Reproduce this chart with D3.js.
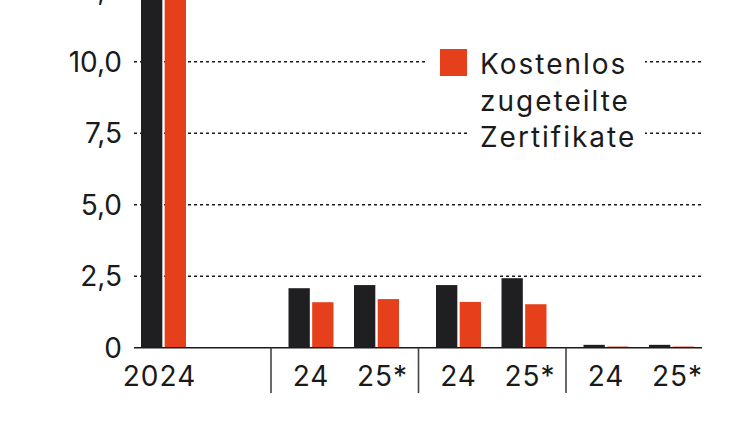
<!DOCTYPE html>
<html><head><meta charset="utf-8">
<script src="https://cdn.jsdelivr.net/npm/d3@7"></script>
<style>html,body{margin:0;padding:0;background:#fff;}svg{display:block;font-family:Inter,"Noto Sans",sans-serif;}</style>
</head><body><svg id="c" width="750" height="421"></svg>
<script>
// ---- data ----
const groups = ["2024", "A", "B", "C"];
const years = ["24", "25*"];
const series = ["Emissionen", "Kostenlos zugeteilte Zertifikate"];
const data = [
  {group: "2024", year: "24", label: "2024", values: [15.0, 14.0]},
  {group: "A", year: "24", label: "24", values: [2.08, 1.59]},
  {group: "A", year: "25*", label: "25*", values: [2.19, 1.70]},
  {group: "B", year: "24", label: "24", values: [2.19, 1.60]},
  {group: "B", year: "25*", label: "25*", values: [2.43, 1.52]},
  {group: "C", year: "24", label: "24", values: [0.10, 0.04]},
  {group: "C", year: "25*", label: "25*", values: [0.10, 0.04]}
];
const yTicks = [0, 2.5, 5, 7.5, 10, 12.5];
const yTickLabels = ["0", "2,5", "5,0", "7,5", "10,0", "12,5"];
const legendLines = ["Kostenlos", "zugeteilte", "Zertifikate"];

// ---- layout ----
const colors = ["#1f1f22", "#e5401b"];
const svg = d3.select("#c");
const y = d3.scaleLinear().domain([0, 10]).range([347.7, 61.7]);
const outer = d3.scaleBand().domain(groups).range([123.5, 713.5]);
const inner = d3.scalePoint().domain(years).range([40, 105.5]);
const ser = d3.scaleBand().domain(series).range([-22.5, 22.5]).paddingInner(0.1);
const gridX0 = 134, gridX1 = 702;
const cx = d => outer(d.group) + inner(d.year);

// gridlines
svg.append("g").selectAll("line").data(yTicks.filter(v => v > 0)).join("line")
  .attr("x1", gridX0).attr("x2", gridX1)
  .attr("y1", d => y(d)).attr("y2", d => y(d))
  .attr("stroke", "#1a1a1a").attr("stroke-width", 1.6).attr("stroke-dasharray", "3,3");

// tick labels
svg.append("g").selectAll("text").data(yTicks).join("text")
  .attr("x", 122).attr("y", d => y(d)).attr("dy", "0.36em")
  .attr("text-anchor", "end").attr("font-size", 28).attr("fill", "#1a1a1a")
  .text((d, i) => yTickLabels[i]);

// legend backgrounds
svg.append("rect").attr("x", 425).attr("y", 38).attr("width", 220).attr("height", 52).attr("fill", "#fff");
svg.append("rect").attr("x", 467).attr("y", 38).attr("width", 178).attr("height", 122).attr("fill", "#fff");
svg.append("rect").attr("x", 440).attr("y", 49).attr("width", 27).attr("height", 27).attr("fill", colors[1]);
svg.append("g").selectAll("text").data(legendLines).join("text")
  .attr("x", 480).attr("y", (d, i) => 74 + i * 36.6)
  .attr("font-size", 28).attr("letter-spacing", 2).attr("fill", "#1a1a1a").text(d => d);

// bars
const bars = [];
data.forEach(d => d.values.forEach((v, i) => bars.push({d, v, s: series[i], i})));
svg.append("g").selectAll("rect").data(bars).join("rect")
  .attr("x", b => cx(b.d) + ser(b.s)).attr("width", ser.bandwidth())
  .attr("y", b => y(b.v)).attr("height", b => y(0) - y(b.v))
  .attr("fill", b => colors[b.i]);

// baseline
svg.append("line").attr("x1", gridX0).attr("x2", gridX1).attr("y1", y(0)).attr("y2", y(0))
  .attr("stroke", "#1a1a1a").attr("stroke-width", 1.6);

// dividers
svg.append("g").selectAll("line").data(groups.slice(1)).join("line")
  .attr("x1", g => outer(g)).attr("x2", g => outer(g))
  .attr("y1", y(0)).attr("y2", 393)
  .attr("stroke", "#444").attr("stroke-width", 1.6);

// category labels
svg.append("g").selectAll("text").data(data).join("text")
  .attr("x", d => cx(d) + (d.year === "25*" ? 6 : (d.group === "2024" ? -4 : 0))).attr("y", 386)
  .attr("text-anchor", "middle").attr("font-size", 28).attr("letter-spacing", 1).attr("fill", "#1a1a1a")
  .text(d => d.label);
</script></body></html>
